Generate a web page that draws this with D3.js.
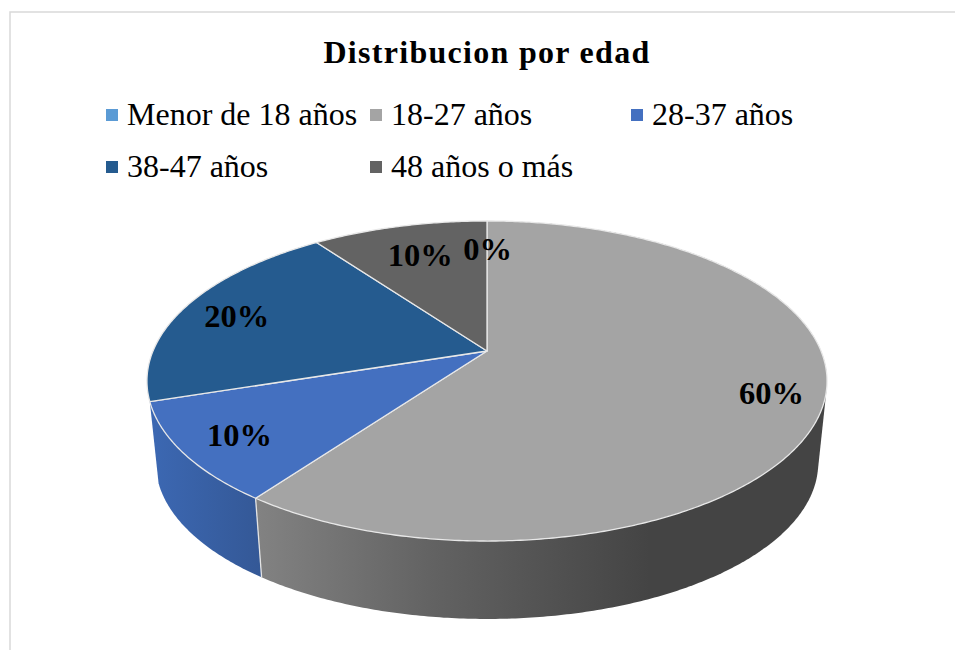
<!DOCTYPE html>
<html><head><meta charset="utf-8">
<script src="https://cdn.jsdelivr.net/npm/d3@7"></script>
<style>html,body{margin:0;padding:0;background:#fff}svg{display:block}text{font-family:"Liberation Serif",serif;fill:#000}</style>
</head><body><div id="c"></div>
<script>
const titleText = "Distribucion por edad";
const categories = ["Menor de 18 años","18-27 años","28-37 años","38-47 años","48 años o más"];
const values = [0,60,10,20,10];
const labels = ["0%","60%","10%","20%","10%"];
const colors = ["#5b9bd5","#a4a4a4","#4470c0","#255b8f","#636363"];

const W=955,H=650;
const svg=d3.select("#c").append("svg").attr("width",W).attr("height",H);
const defs=svg.append("defs");

// frame
svg.append("path").attr("d",`M${W},12H10V${H}`).attr("fill","none").attr("stroke","#d9d9d9").attr("stroke-width",1.5);

// title
svg.append("text").attr("x",487).attr("y",63).attr("text-anchor","middle")
  .attr("font-size",32).attr("font-weight","bold").attr("letter-spacing",1.3).text(titleText);

// legend
const legendCols=d3.scaleOrdinal().domain([0,1,2]).range([106,370,631]);
const legendRows=d3.scaleOrdinal().domain([0,1]).range([125,177]);
const lg=svg.append("g").selectAll("g").data(categories).join("g")
  .attr("transform",(d,i)=>`translate(${legendCols(i%3)},${legendRows(Math.floor(i/3))})`);
lg.append("rect").attr("x",0).attr("y",-16).attr("width",12).attr("height",12).attr("fill",(d,i)=>colors[i]);
lg.append("text").attr("x",21).attr("font-size",32).text(d=>d);

// perspective pie
const cx=487,cy=351,A=334,B=154.4,P=0.1875,SHR=0.974,DROP=92;
const proj=(a,r=1)=>{const w=1+P*r*Math.cos(a);return [cx+A*r*Math.sin(a)/w, cy-B*r*Math.cos(a)/w];};
const low=(a)=>{const [x,y]=proj(a);return [cx+(x-cx)*SHR, y*SHR+DROP];};
const arcs=d3.pie().sort(null).value(d=>d)(values);
const line=d3.line();
const steps=(a0,a1)=>{const n=Math.max(2,Math.ceil(Math.abs(a1-a0)/0.01));return d3.range(n+1).map(i=>a0+(a1-a0)*i/n);};

// side walls
const grad=(id,stops)=>{const g=defs.append("linearGradient").attr("id",id).attr("gradientUnits","userSpaceOnUse")
  .attr("x1",258).attr("x2",650).attr("y1",0).attr("y2",0);
  stops.forEach(s=>g.append("stop").attr("offset",s[0]).attr("stop-color",s[1]));};
grad("wallGray",[[0,"#828282"],[0.45,"#626262"],[1,"#444444"]]);
const gb=defs.append("linearGradient").attr("id","wallBlue").attr("gradientUnits","userSpaceOnUse").attr("x1",150).attr("x2",262).attr("y1",0).attr("y2",0);
gb.append("stop").attr("offset",0).attr("stop-color","#3c68b3");
gb.append("stop").attr("offset",1).attr("stop-color","#345896");
const wall=(a0,a1,fill)=>{const s=steps(a0,a1);
  const pts=s.map(a=>proj(a)).concat(s.map(a=>low(a)));
  svg.append("path").attr("d",line(d3.polygonHull(pts))+"Z").attr("fill",fill);};
wall(arcs[1].startAngle,arcs[1].endAngle,"url(#wallGray)");
wall(arcs[2].startAngle,arcs[2].endAngle,"url(#wallBlue)");
svg.append("path").attr("d",line([proj(arcs[1].endAngle),low(arcs[1].endAngle)]))
  .attr("stroke","#e4e4e4").attr("stroke-width",1.3).attr("fill","none");

// top faces
arcs.forEach((d,i)=>{ if(d.endAngle===d.startAngle) return;
  const pts=[[cx,cy]].concat(steps(d.startAngle,d.endAngle).map(a=>proj(a)));
  svg.append("path").attr("d",line(pts)+"Z").attr("fill",colors[i]).attr("stroke","#e8e8e8").attr("stroke-width",1.3).attr("stroke-linejoin","round");
});

// data labels
const nudge=[[0.5,11],[0.5,-1],[6,-1],[7,4],[9.5,12]];
arcs.forEach((d,i)=>{const m=(d.startAngle+d.endAngle)/2;const [x,y]=proj(m,0.85);
  svg.append("text").attr("x",x+nudge[i][0]).attr("y",y+nudge[i][1]+11).attr("text-anchor","middle")
    .attr("font-size",32.5).attr("font-weight","bold").text(labels[i]);
});
</script></body></html>
